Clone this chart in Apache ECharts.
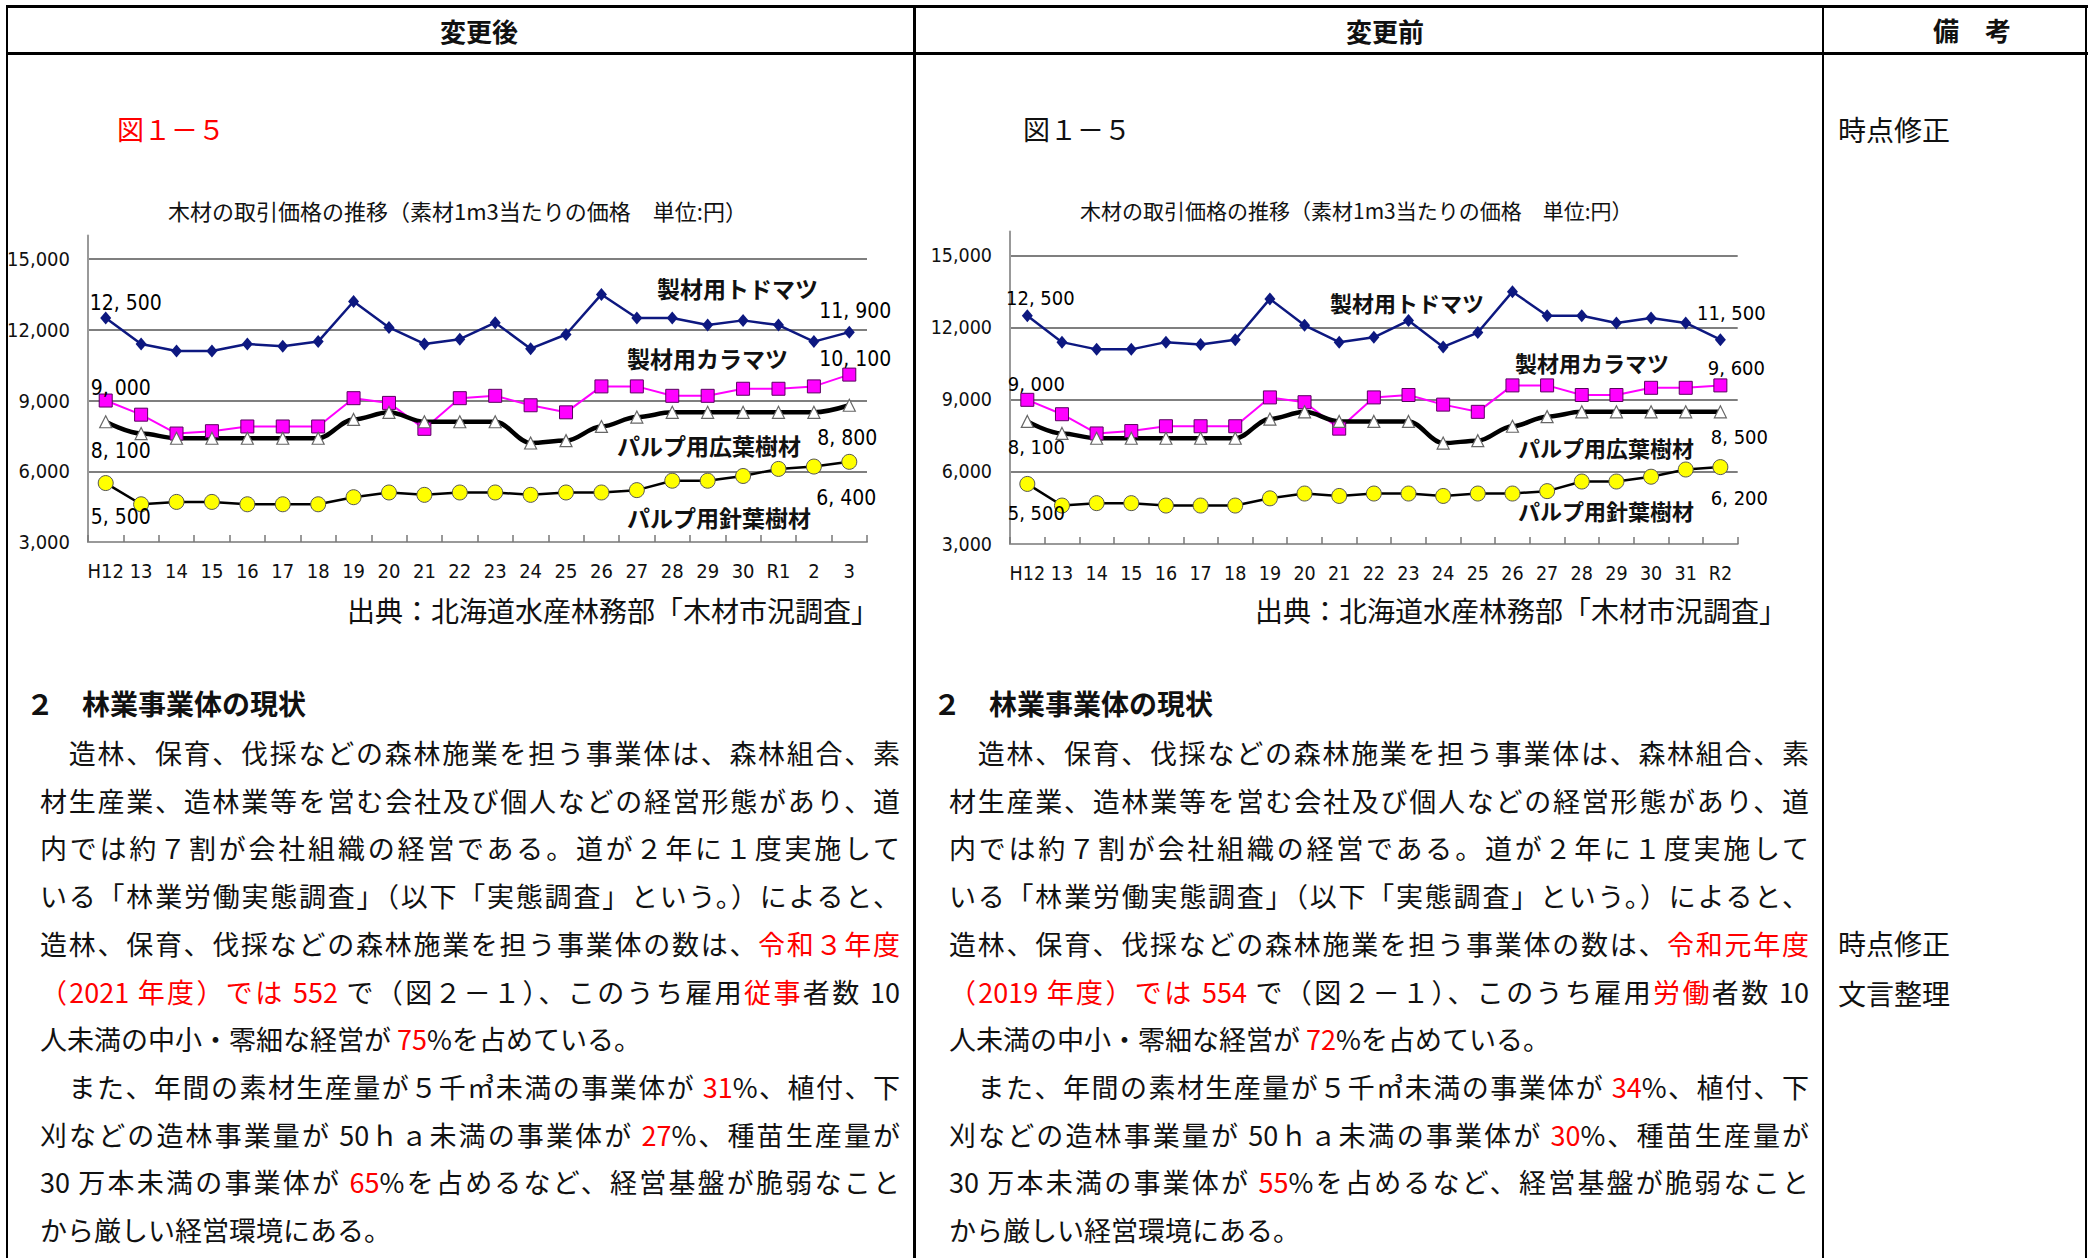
<!DOCTYPE html>
<html lang="ja">
<head>
<meta charset="utf-8">
<script src="https://cdn.jsdelivr.net/npm/echarts@6/dist/echarts.min.js"></script>
<style>
  html, body { margin: 0; padding: 0; background: #fff; }
  body { width: 2089px; height: 1258px; position: relative; overflow: hidden;
         font-family: 'Noto Sans CJK JP', sans-serif; color: #111; }
  .ln { position: absolute; background: #000; }
  .t { position: absolute; height: 40px; line-height: 40px; font-size: 27px; white-space: nowrap; }
  .j { width: 860px; white-space: normal; text-align: justify; text-align-last: justify; }
  .b { font-weight: bold; }
  .r { color: #ff0000; }
  .chart { position: absolute; }
</style>
</head>
<body>
<div class="ln" style="left:6px;top:5px;width:2082px;height:3px"></div>
<div class="ln" style="left:6px;top:52px;width:2082px;height:3px"></div>
<div class="ln" style="left:6px;top:5px;width:2px;height:1253px"></div>
<div class="ln" style="left:913px;top:5px;width:3px;height:1253px"></div>
<div class="ln" style="left:1822px;top:5px;width:2px;height:1253px"></div>
<div class="ln" style="left:2085px;top:5px;width:2px;height:1253px"></div>

<div class="t b" style="left:440px;top:11px;font-size:26px">変更後</div>
<div class="t b" style="left:1346px;top:11px;font-size:26px">変更前</div>
<div class="t b" style="left:1933px;top:10px;font-size:26px">備　考</div>

<div class="t r" style="left:117px;top:109px">図１－５</div>
<div class="t" style="left:1023px;top:109px">図１－５</div>
<div class="t" style="left:1838px;top:109px;font-size:28px">時点修正</div>
<div class="t" style="left:1838px;top:923px;font-size:28px">時点修正</div>
<div class="t" style="left:1838px;top:973px;font-size:28px">文言整理</div>

<div id="chart1" class="chart" style="left:0px;top:170px;width:912px;height:440px"></div>
<div id="chart2" class="chart" style="left:916px;top:170px;width:906px;height:440px"></div>

<div class="t" style="left:347px;top:590px;font-size:28px">出典：北海道水産林務部「木材市況調査」</div>
<div class="t" style="left:1255px;top:590px;font-size:28px">出典：北海道水産林務部「木材市況調査」</div>

<div class="t b" style="left:26px;top:683px;font-size:28px">２　林業事業体の現状</div>
<div class="t b" style="left:933px;top:683px;font-size:28px">２　林業事業体の現状</div>

<div id="textAfter"></div>
<div id="textBefore"></div>

<script>
// 木材の取引価格（円/m3）
const years1 = ['H12', '13', '14', '15', '16', '17', '18', '19', '20', '21', '22', '23', '24', '25', '26', '27', '28', '29', '30', 'R1', '2', '3'];
const todomatsu1 = [12500, 11400, 11100, 11100, 11400, 11300, 11500, 13200, 12100, 11400, 11600, 12300, 11200, 11800, 13500, 12500, 12500, 12200, 12400, 12200, 11500, 11900];
const karamatsu1 = [9000, 8400, 7600, 7700, 7900, 7900, 7900, 9100, 8900, 7800, 9100, 9200, 8800, 8500, 9600, 9600, 9200, 9200, 9500, 9500, 9600, 10100];
const kouyou1 = [8100, 7600, 7400, 7400, 7400, 7400, 7400, 8200, 8500, 8100, 8100, 8100, 7200, 7300, 7900, 8300, 8500, 8500, 8500, 8500, 8500, 8800];
const shinyou1 = [5500, 4600, 4700, 4700, 4600, 4600, 4600, 4900, 5100, 5000, 5100, 5100, 5000, 5100, 5100, 5200, 5600, 5600, 5800, 6100, 6200, 6400];

const years2 = ['H12', '13', '14', '15', '16', '17', '18', '19', '20', '21', '22', '23', '24', '25', '26', '27', '28', '29', '30', '31', 'R2'];
const todomatsu2 = [12500, 11400, 11100, 11100, 11400, 11300, 11500, 13200, 12100, 11400, 11600, 12300, 11200, 11800, 13500, 12500, 12500, 12200, 12400, 12200, 11500];
const karamatsu2 = [9000, 8400, 7600, 7700, 7900, 7900, 7900, 9100, 8900, 7800, 9100, 9200, 8800, 8500, 9600, 9600, 9200, 9200, 9500, 9500, 9600];
const kouyou2 = [8100, 7600, 7400, 7400, 7400, 7400, 7400, 8200, 8500, 8100, 8100, 8100, 7200, 7300, 7900, 8300, 8500, 8500, 8500, 8500, 8500];
const shinyou2 = [5500, 4600, 4700, 4700, 4600, 4600, 4600, 4900, 5100, 5000, 5100, 5100, 5000, 5100, 5100, 5200, 5600, 5600, 5800, 6100, 6200];

const seriesNames = ['製材用トドマツ', '製材用カラマツ', 'パルプ用広葉樹材', 'パルプ用針葉樹材'];
const yMin = 3000, yMax = 16000, yStep = 3000;
const chartTitle = '木材の取引価格の推移（素材1m3当たりの価格　単位:円）';

// 本文
const textAfter = [
  '　造林、保育、伐採などの森林施業を担う事業体は、森林組合、素',
  '材生産業、造林業等を営む会社及び個人などの経営形態があり、道',
  '内では約７割が会社組織の経営である。道が２年に１度実施して',
  'いる「林業労働実態調査」（以下「実態調査」という。）によると、',
  '造林、保育、伐採などの森林施業を担う事業体の数は、[令和３年度]',
  '[（2021 年度）では 552] で（図２－１）、このうち雇用[従事]者数 10',
  '人未満の中小・零細な経営が [75]%を占めている。',
  '　また、年間の素材生産量が５千㎥未満の事業体が [31]%、植付、下',
  '刈などの造林事業量が 50ｈａ未満の事業体が [27]%、種苗生産量が',
  '30 万本未満の事業体が [65]%を占めるなど、経営基盤が脆弱なこと',
  'から厳しい経営環境にある。'
];
const textBefore = [
  '　造林、保育、伐採などの森林施業を担う事業体は、森林組合、素',
  '材生産業、造林業等を営む会社及び個人などの経営形態があり、道',
  '内では約７割が会社組織の経営である。道が２年に１度実施して',
  'いる「林業労働実態調査」（以下「実態調査」という。）によると、',
  '造林、保育、伐採などの森林施業を担う事業体の数は、[令和元年度]',
  '[（2019 年度）では 554] で（図２－１）、このうち雇用[労働]者数 10',
  '人未満の中小・零細な経営が [72]%を占めている。',
  '　また、年間の素材生産量が５千㎥未満の事業体が [34]%、植付、下',
  '刈などの造林事業量が 50ｈａ未満の事業体が [30]%、種苗生産量が',
  '30 万本未満の事業体が [55]%を占めるなど、経営基盤が脆弱なこと',
  'から厳しい経営環境にある。'
];

function writeText(id, lines, x) {
  const box = document.getElementById(id);
  lines.forEach((s, i) => {
    const d = document.createElement('div');
    const last = i === 6 || i === lines.length - 1;
    d.className = last ? 't' : 't j';
    d.style.left = x + 'px';
    d.style.top = (733 + i * 47.7) + 'px';
    d.innerHTML = s.replace(/\[([^\]]+)\]/g, '<span class="r">$1</span>');
    box.appendChild(d);
  });
}
writeText('textAfter', textAfter, 40);
writeText('textBefore', textBefore, 949);

const narrow = "'Liberation Sans Narrow', 'DejaVu Sans Condensed', sans-serif";
const gothic = "'Noto Sans CJK JP', sans-serif";

function fmt(v) {
  return String(v).replace(/\B(?=(\d{3})+(?!\d))/g, ', ');
}

// 最初と最後の点にだけラベルを付ける
function withEndLabels(values, first, last) {
  return values.map((v, i) => {
    if (i === 0) return { value: v, label: { show: true, offset: first } };
    if (i === values.length - 1) return { value: v, label: { show: true, offset: last } };
    return v;
  });
}

function makeChart(el, c) {
  const chart = echarts.init(document.getElementById(el), null, { renderer: 'svg' });
  const lbl = {
    show: false, position: 'inside', formatter: (p) => fmt(p.value),
    fontSize: c.labelSize, fontFamily: narrow, color: '#000'
  };
  chart.setOption({
    animation: false,
    title: {
      text: chartTitle, left: c.titleX, top: c.titleY,
      textStyle: { fontSize: c.titleSize, fontWeight: 'normal', fontFamily: gothic, color: '#111' }
    },
    grid: c.grid,
    xAxis: {
      type: 'category', data: c.cats, boundaryGap: true,
      axisLine: { lineStyle: { color: '#999', width: 2 } },
      axisTick: { show: true, inside: true, length: 7, interval: 0, lineStyle: { color: '#777', width: 1.5 } },
      axisLabel: { interval: 0, margin: 19, fontSize: c.axisSize, fontFamily: narrow, color: '#111' }
    },
    yAxis: {
      type: 'value', min: yMin, max: yMax, interval: yStep,
      axisLine: { show: true, lineStyle: { color: '#999', width: 2 } },
      axisTick: { show: false },
      axisLabel: { margin: 18, showMaxLabel: false, fontSize: c.axisSize, fontFamily: narrow, color: '#111',
        formatter: (v) => v.toLocaleString('en-US') },
      splitLine: { show: true, showMinLine: false, showMaxLine: false, lineStyle: { color: '#555', width: 1.5 } }
    },
    series: [
      {
        name: seriesNames[0], type: 'line', data: withEndLabels(c.data[0], c.offsets[0][0], c.offsets[0][1]),
        symbol: 'diamond', symbolSize: [11, 13],
        lineStyle: { color: '#0d1880', width: 2.5 }, itemStyle: { color: '#0d1880' }, label: lbl
      },
      {
        name: seriesNames[1], type: 'line', data: withEndLabels(c.data[1], c.offsets[1][0], c.offsets[1][1]),
        symbol: 'rect', symbolSize: 13,
        lineStyle: { color: '#ff00ff', width: 2 },
        itemStyle: { color: '#ff00ff', borderColor: '#5a0060', borderWidth: 1 }, label: lbl
      },
      {
        name: seriesNames[2], type: 'line', data: withEndLabels(c.data[2], c.offsets[2][0], c.offsets[2][1]),
        smooth: 0.35, smoothMonotone: 'x',
        symbol: 'triangle', symbolSize: 12,
        lineStyle: { color: '#000', width: 4.5 },
        itemStyle: { color: '#fff', borderColor: '#666', borderWidth: 1.2 }, label: lbl
      },
      {
        name: seriesNames[3], type: 'line', data: withEndLabels(c.data[3], c.offsets[3][0], c.offsets[3][1]),
        symbol: 'circle', symbolSize: 15,
        lineStyle: { color: '#000', width: 2.5 },
        itemStyle: { color: '#ffff00', borderColor: '#555', borderWidth: 1 }, label: lbl
      }
    ],
    graphic: seriesNames.map((n, i) => ({
      type: 'text', x: c.names[i][0], y: c.names[i][1],
      style: { text: n, fill: '#111', font: 'bold ' + c.nameSize + 'px ' + gothic, verticalAlign: 'middle' }
    }))
  });
  return chart;
}

makeChart('chart1', {
  cats: years1,
  data: [todomatsu1, karamatsu1, kouyou1, shinyou1],
  grid: { left: 88, top: 65.5, width: 779, height: 306.5 },
  titleX: 163, titleY: 24, titleSize: 22,
  axisSize: 20, labelSize: 21, nameSize: 23,
  offsets: [[[20, -15], [6, -21]], [[15, -13], [6, -16]], [[15, 29], [-2, 33]], [[15, 34], [-3, 36]]],
  names: [[657, 118], [627, 188], [617, 275], [627, 347]]
});

makeChart('chart2', {
  cats: years2,
  data: [todomatsu2, karamatsu2, kouyou2, shinyou2],
  grid: { left: 94, top: 61.6, width: 727.7, height: 312.4 },
  titleX: 159, titleY: 24, titleSize: 21,
  axisSize: 19.5, labelSize: 20, nameSize: 22,
  offsets: [[[13, -18], [11, -27]], [[9, -16], [16, -17]], [[9, 26], [19, 25]], [[9, 29], [19, 31]]],
  names: [[414, 132], [599, 192], [602, 277], [602, 340]]
});
</script>
</body>
</html>
